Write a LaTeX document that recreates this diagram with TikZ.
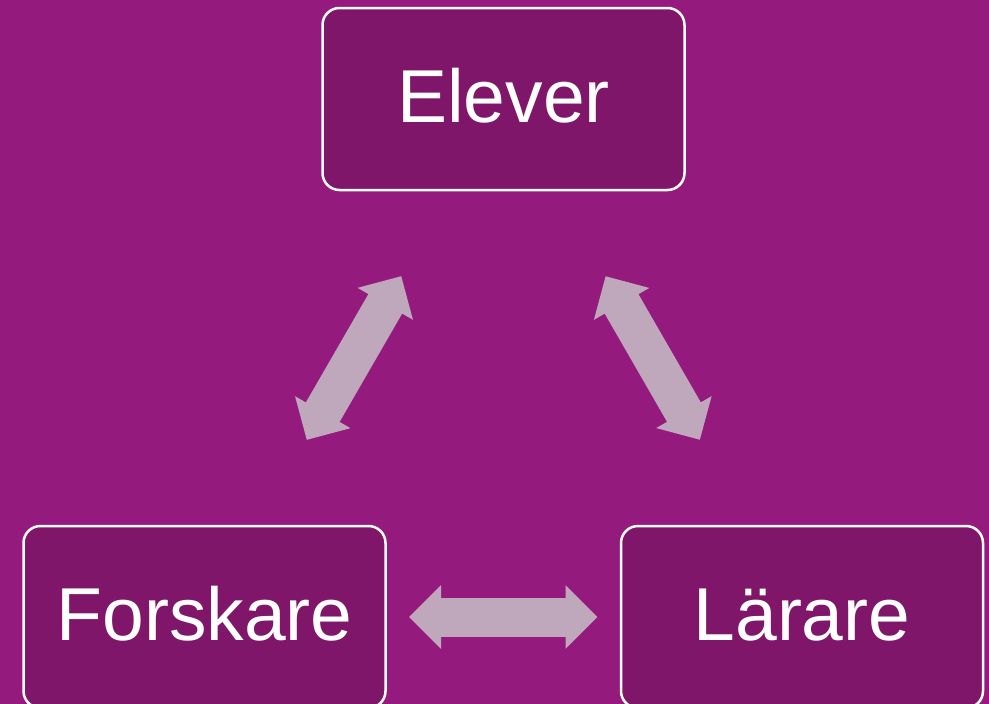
\documentclass[tikz,border=0pt]{standalone}
\usepackage{fontspec}
\setmainfont{Liberation Sans}
\usetikzlibrary{arrows.meta}
\definecolor{bgpurple}{RGB}{148,27,125}
\definecolor{boxpurple}{RGB}{127,22,105}
\definecolor{arrowgray}{RGB}{191,168,188}
\tikzset{
  rolebox/.style={draw=white, line width=2.5pt, fill=boxpurple, rounded corners=17pt,
    minimum width=362pt, minimum height=182pt, text=white, inner sep=0pt,
    text height=54pt, text depth=8pt, font=\fontsize{75}{90}\selectfont},
  fatarrow/.style={draw=arrowgray, line width=39pt,
    {Triangle[length=32pt,width=62pt,fill=arrowgray]}-{Triangle[length=32pt,width=62pt,fill=arrowgray]},
    shorten <=204.5pt, shorten >=204.5pt}
}
\begin{document}
\begin{tikzpicture}[x=1pt,y=-1pt]
\fill[bgpurple] (0,0) rectangle (989,704);
\useasboundingbox (0,0) rectangle (989,704);
\node[rolebox] (elever) at (503.5,99) {Elever};
\node[rolebox] (forskare) at (204.5,617) {Forskare};
\node[rolebox] (larare) at (802,617) {Lärare};
\draw[fatarrow] (forskare.center) -- (elever.center);
\draw[fatarrow] (elever.center) -- (larare.center);
\draw[fatarrow] (forskare.center) -- (larare.center);
\end{tikzpicture}
\end{document}
